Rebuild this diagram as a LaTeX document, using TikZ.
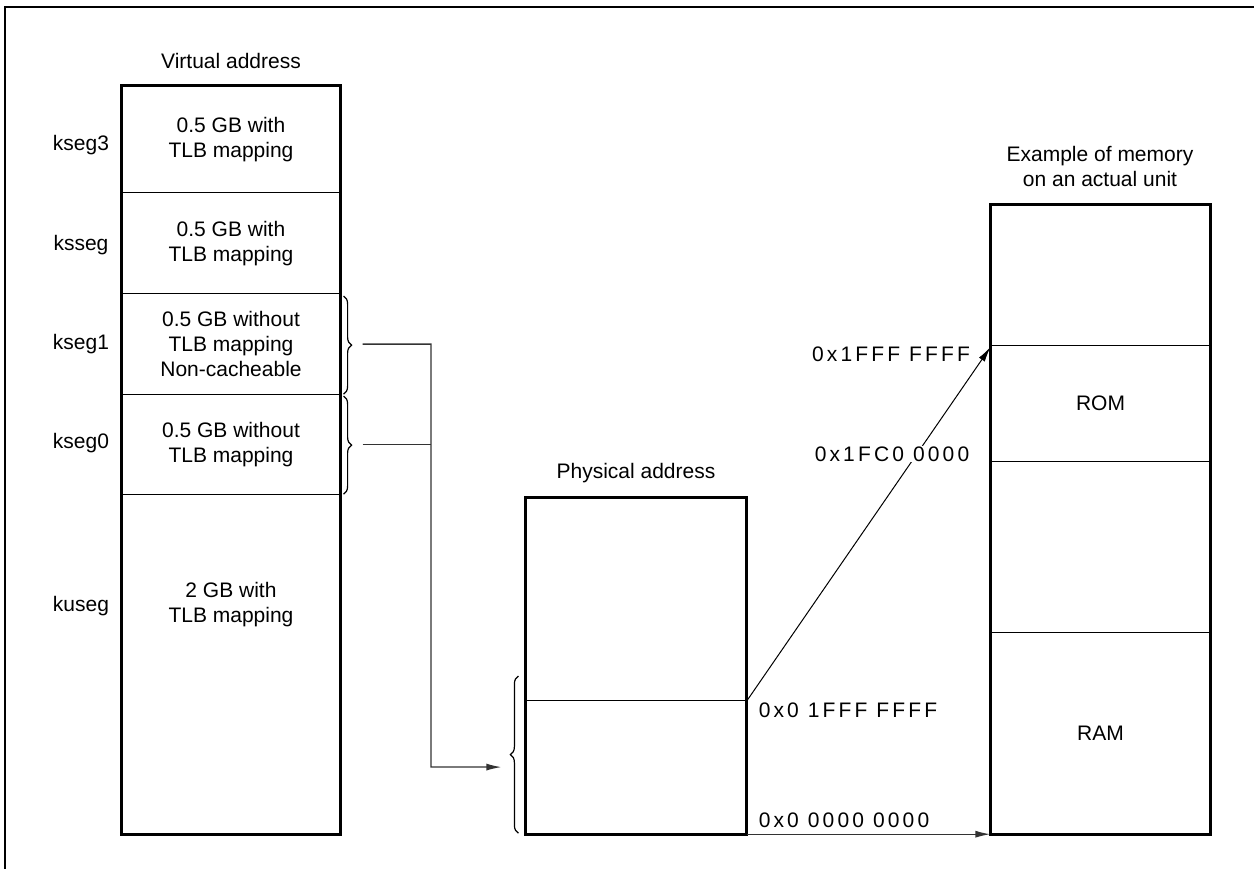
\documentclass[tikz,border=0pt]{standalone}
\usepackage{fontspec}
\setmainfont{Liberation Sans}
\newfontfamily\hexfont[LetterSpace=15]{Liberation Sans}
\usetikzlibrary{arrows.meta, positioning, calc, decorations.pathreplacing}
\tikzset{
    seg/.style={draw, line width=1.2pt, minimum width=218pt, inner sep=0pt, align=center, anchor=north},
    outline/.style={line width=3pt},
    link/.style={line width=1.3pt, black!80},
    brace/.style={decorate, decoration={brace, amplitude=8pt}, line width=1.2pt},
    hex/.style={font={\fontsize{21}{25}\hexfont}, inner sep=1pt},
}
\begin{document}
\begin{tikzpicture}[x=1pt, y=-1pt, >={Latex[length=15pt,width=7pt]}, font=\fontsize{21}{25}\selectfont]
    \useasboundingbox (0,0) rectangle (1254,869);
    \draw[line width=2.5pt] (5,869) -- (5,7) -- (1254,7);

    % virtual address map
    \node (vtitle) at (231,61) {Virtual address};
    \node[seg, minimum height=106pt] (kseg3) at (231,86) {0.5 GB with\\TLB mapping};
    \node[seg, minimum height=101pt] (ksseg) at (231,192) {0.5 GB with\\TLB mapping};
    \node[seg, minimum height=101pt] (kseg1) at (231,293) {0.5 GB without\\TLB mapping\\Non-cacheable};
    \node[seg, minimum height=100pt] (kseg0) at (231,394) {0.5 GB without\\TLB mapping};
    \node[seg, minimum height=339pt] (kuseg) at (231,494) {};
    \node[align=center] (kusegtxt) at (231,605) {2 GB with\\TLB mapping};
    \draw[outline] (kseg3.north west) rectangle (kuseg.south east);

    \node (lkseg3) at (81,145) {kseg3};
    \node (lksseg) at (81,245) {ksseg};
    \node (lkseg1) at (81,344) {kseg1};
    \node (lkseg0) at (81,443) {kseg0};
    \node (lkuseg) at (81,606) {kuseg};

    % physical address map
    \node (ptitle) at (636,473) {Physical address};
    \node[seg, minimum width=220pt, minimum height=203pt] (physhi) at (636,497) {};
    \node[seg, minimum width=220pt, minimum height=133pt] (physlo) at (636,700) {};
    \draw[outline] (physhi.north west) rectangle (physlo.south east);

    % memory on the unit
    \node[align=center] (utitle) at (1100,166) {Example of memory\\on an actual unit};
    \node[seg, minimum width=219pt, minimum height=140pt] (utop) at (1100.5,205) {};
    \node[seg, minimum width=219pt, minimum height=116pt] (rom) at (1100.5,345) {ROM};
    \node[seg, minimum width=219pt, minimum height=171pt] (umid) at (1100.5,461) {};
    \node[seg, minimum width=219pt, minimum height=201pt] (ram) at (1100.5,632) {RAM};
    \draw[outline] (utop.north west) rectangle (ram.south east);

    % braces and links
    \draw[brace] ([xshift=3pt,yshift=-3pt]kseg1.north east) -- ([xshift=3pt,yshift=1pt]kseg1.south east);
    \draw[brace] ([xshift=3pt,yshift=-2pt]kseg0.north east) -- ([xshift=3pt,yshift=1pt]kseg0.south east);
    \draw[brace] ([xshift=-7pt,yshift=1pt]physlo.south west) -- ([xshift=-7pt,yshift=24pt]physlo.north west);
    \coordinate (b1) at ([xshift=22pt]kseg1.east);
    \coordinate (b0) at ([xshift=22pt]kseg0.east);
    \coordinate (jn) at (431,767);
    \coordinate (pin) at ([xshift=-24pt]physlo.west);
    \draw[link, ->] (b1) -| (jn) -- (pin);
    \draw[link] (b0) -- (b0 -| jn);

    \draw[->, line width=1pt] (physhi.south east) -- ([yshift=-1pt]utop.south west);
    \draw[link, ->] (physlo.south east) -- (ram.south west);

    \node[hex] (h1) at (891,354) {0x1FFF FFFF};
    \node[hex, fill=white] (h2) at (892,454) {0x1FC0 0000};
    \node[hex] (h3) at (848,710) {0x0 1FFF FFFF};
    \node[hex] (h4) at (844,820) {0x0 0000 0000};
\end{tikzpicture}
\end{document}
